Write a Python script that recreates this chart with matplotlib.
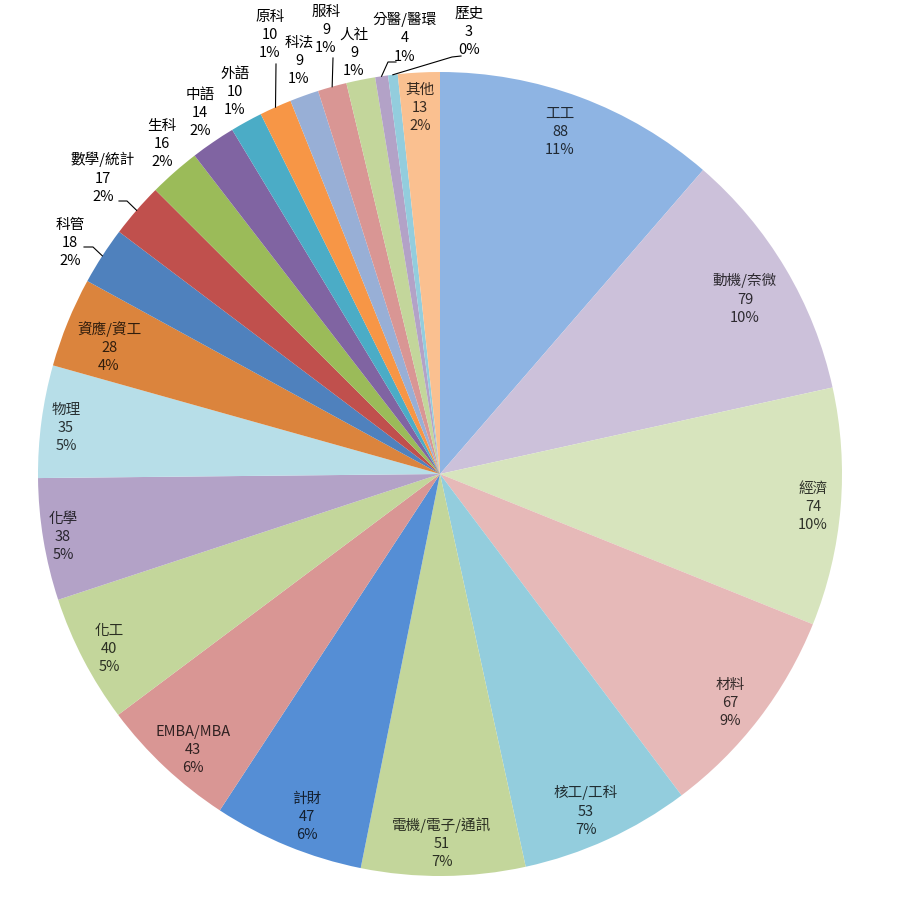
import numpy as np
import matplotlib.pyplot as plt
from matplotlib.colors import to_rgb

plt.rcParams['font.family'] = ['Noto Sans CJK TC', 'DejaVu Sans']

depts = ['工工', '動機/奈微', '經濟', '材料', '核工/工科', '電機/電子/通訊', '計財',
         'EMBA/MBA', '化工', '化學', '物理', '資應/資工', '科管', '數學/統計', '生科',
         '中語', '外語', '原科', '科法', '服科', '人社', '分醫/醫環', '歷史', '其他']
counts = [88, 79, 74, 67, 53, 51, 47, 43, 40, 38, 35, 28, 18, 17, 16, 14, 10, 10,
          9, 9, 9, 4, 3, 13]
colors = ['#8EB4E3', '#CCC1DA', '#D7E4BD', '#E6B9B8', '#93CDDD', '#C3D69B', '#558ED5',
          '#D99694', '#C3D69B', '#B3A2C7', '#B7DEE8', '#DB843D', '#4F81BD', '#C0504D',
          '#9BBB59', '#8064A2', '#4BACC6', '#F79646', '#98AFD6', '#D99694', '#C3D69B',
          '#B3A2C7', '#93CDDD', '#FAC090']

# label centres, in pixels of the original picture
label_px = [(560, 132), (745, 299), (813, 507), (730, 703), (586, 811), (442, 843),
            (307, 817), (193, 750), (109, 649), (63, 537), (66, 428), (109, 347),
            (70, 243), (103, 178), (162, 144), (200, 113), (235, 92), (270, 35),
            (299, 61), (326, 30), (354, 53), (405, 38), (469, 32), (420, 108)]
outside = {'科管', '數學/統計', '生科', '中語', '外語', '原科', '科法', '服科', '人社',
           '分醫/醫環', '歷史'}
# leader lines: start / elbow points in pixels, last point is the wedge edge
leaders = {
    '科管': [(84, 247), (93, 247)],
    '數學/統計': [(119, 201), (127, 201)],
    '原科': [(276, 64)],
    '服科': [(333, 58)],
    '分醫/醫環': [(396, 62), (388, 62)],
    '歷史': [(461, 56), (452, 57)],
}

CX, CY, R = 440, 474, 402


def px2data(p):
    return ((p[0] - CX) / R, (CY - p[1]) / R)


fig = plt.figure(figsize=(8.98, 9.02), dpi=100)
ax = fig.add_axes([(CX - R) / 898, (902 - CY - R) / 902, 2 * R / 898, 2 * R / 902])

wedges, _ = ax.pie(counts, colors=colors, startangle=90, counterclock=False,
                   radius=1, wedgeprops=dict(linewidth=0))
ax.set_xlim(-1, 1)
ax.set_ylim(-1, 1)
ax.axis('off')

total = sum(counts)
for name, n, c, pos, w in zip(depts, counts, colors, label_px, wedges):
    x, y = px2data(pos)
    if name in outside:
        tc = 'black'
    else:
        tc = tuple(v * 0.22 for v in to_rgb(c))
    ax.text(x, y, f'{name}\n{n}\n{round(n / total * 100)}%', ha='center', va='center',
            fontsize=10.5, linespacing=1.4, color=tc)
    if name in leaders:
        mid = np.deg2rad((w.theta1 + w.theta2) / 2)
        pts = [px2data(p) for p in leaders[name]] + [(np.cos(mid), np.sin(mid))]
        xs, ys = zip(*pts)
        ax.plot(xs, ys, color='black', lw=0.8, clip_on=False)

fig.savefig('out.png', dpi=100)
